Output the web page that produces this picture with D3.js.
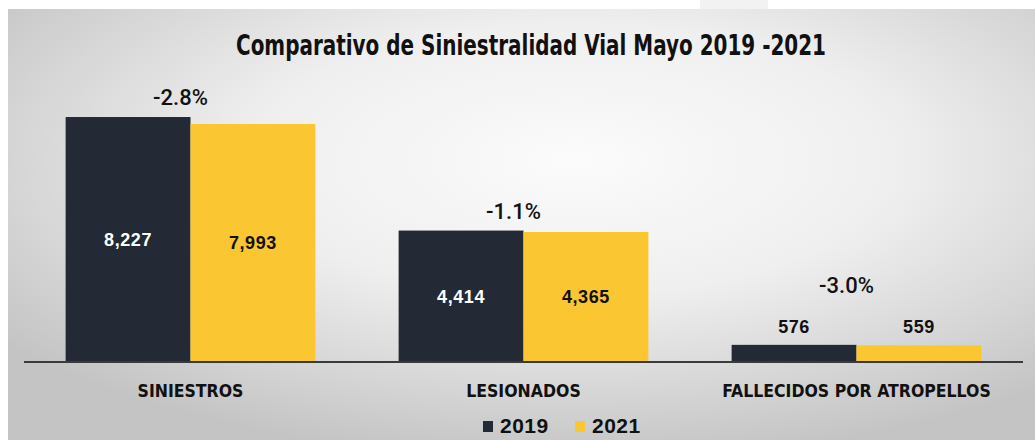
<!DOCTYPE html>
<html>
<head>
<meta charset="utf-8">
<script src="https://cdn.jsdelivr.net/npm/d3@7"></script>
<style>
  body { margin: 0; background: #ffffff; }
  svg { display: block; }
</style>
</head>
<body>
<svg id="chart" width="1035" height="440"></svg>
<script>
// chart data
const categories = ['SINIESTROS', 'LESIONADOS', 'FALLECIDOS POR ATROPELLOS'];
const years = ['2019', '2021'];
const values2019 = [8227, 4414, 576];
const values2021 = [7993, 4365, 559];
const colors = ['#232a35', '#fac631'];

const rows = categories.map((c, i) => ({
    cat: c,
    vals: [
        { year: years[0], value: values2019[i] },
        { year: years[1], value: values2021[i] }
    ],
    change: (values2021[i] - values2019[i]) / values2019[i]
}));

const svg = d3.select('#chart');
const W = 1035, H = 440;

// background panel with soft radial shading
const defs = svg.append('defs');
const grad = defs.append('radialGradient')
    .attr('id', 'bg')
    .attr('cx', '55%').attr('cy', '35%').attr('r', '70%');
grad.append('stop').attr('offset', '0%').attr('stop-color', '#fbfbfb');
grad.append('stop').attr('offset', '45%').attr('stop-color', '#efefef');
grad.append('stop').attr('offset', '100%').attr('stop-color', '#c4c4c4');

svg.append('rect').attr('x', 8).attr('y', 9).attr('width', W - 8).attr('height', H - 9)
    .attr('fill', 'url(#bg)');
svg.append('rect').attr('x', 700).attr('y', 0).attr('width', 68).attr('height', 9)
    .attr('fill', '#f2f2f2');

// scales
const baseY = 362;
const x0 = d3.scaleBand()
    .domain(categories)
    .range([24, 1023])
    .paddingInner(0.25)
    .paddingOuter(0.125);
const x1 = d3.scaleBand()
    .domain(years)
    .range([0, x0.bandwidth()]);
const y = d3.scaleLinear()
    .domain([0, 9000])
    .range([baseY, baseY - 268]);
const color = d3.scaleOrdinal().domain(years).range(colors);

const fmt = d3.format(',');
const pct = d3.formatLocale({ decimal: '.', thousands: ',', grouping: [3], currency: ['$', ''], minus: '-' })
    .format('.1%');

const condensed = '"DejaVu Sans Condensed", "DejaVu Sans", sans-serif';

// title
svg.append('text')
    .attr('x', 531).attr('y', 55)
    .attr('text-anchor', 'middle')
    .attr('textLength', 590)
    .attr('lengthAdjust', 'spacingAndGlyphs')
    .style('font-family', condensed)
    .style('font-weight', 'bold')
    .style('font-size', '29px')
    .style('fill', '#111')
    .text('Comparativo de Siniestralidad Vial Mayo 2019 -2021');

const groups = svg.selectAll('.group')
    .data(rows)
    .enter()
    .append('g')
    .attr('class', 'group')
    .attr('transform', d => `translate(${x0(d.cat)},0)`);

// bars
groups.selectAll('rect')
    .data(d => d.vals)
    .enter()
    .append('rect')
    .attr('x', d => x1(d.year))
    .attr('y', d => y(d.value))
    .attr('width', x1.bandwidth())
    .attr('height', d => baseY - y(d.value))
    .attr('fill', d => color(d.year));

// value labels: inside tall bars, above short ones
const inside = d => baseY - y(d.value) > 40;
groups.selectAll('.val')
    .data(d => d.vals)
    .enter()
    .append('text')
    .attr('class', 'val')
    .attr('x', d => x1(d.year) + x1.bandwidth() / 2)
    .attr('y', d => inside(d) ? (y(d.value) + baseY) / 2 : y(d.value) - 12)
    .attr('dy', d => inside(d) ? '0.35em' : 0)
    .attr('text-anchor', 'middle')
    .style('font-family', '"Liberation Sans", Arial, sans-serif')
    .style('font-weight', 'bold')
    .style('font-size', '18px')
    .style('letter-spacing', '0.6px')
    .style('fill', d => inside(d) && d.year === '2019' ? '#ffffff' : '#111111')
    .text(d => fmt(d.value));

// percent change labels
groups.append('text')
    .attr('x', x0.bandwidth() / 2 - 10)
    .attr('y', d => {
        const top = y(d3.max(d.vals, v => v.value));
        return inside(d.vals[1]) ? top - 12 : top - 52;
    })
    .attr('text-anchor', 'middle')
    .style('font-family', 'Roboto, sans-serif')
    .style('font-weight', 500)
    .style('font-size', '22px')
    .style('fill', '#111')
    .text(d => pct(d.change));

// baseline
svg.append('line')
    .attr('x1', 24).attr('x2', 1023)
    .attr('y1', baseY).attr('y2', baseY)
    .attr('stroke', '#3a3a3a')
    .attr('stroke-width', 2);

// category labels
svg.selectAll('.cat')
    .data(categories)
    .enter()
    .append('text')
    .attr('class', 'cat')
    .attr('x', d => x0(d) + x0.bandwidth() / 2)
    .attr('y', 397)
    .attr('text-anchor', 'middle')
    .style('font-family', condensed)
    .style('font-weight', 'bold')
    .style('font-size', '17.5px')
    .style('fill', '#111')
    .text(d => d);

// legend
const legend = svg.append('g').attr('transform', 'translate(483,421)');
const item = legend.selectAll('.leg')
    .data(years)
    .enter()
    .append('g')
    .attr('class', 'leg')
    .attr('transform', (d, i) => `translate(${i * 92},0)`);
item.append('rect')
    .attr('width', 10).attr('height', 11)
    .attr('fill', d => color(d));
item.append('text')
    .attr('x', 17).attr('y', 12)
    .style('font-family', '"Liberation Sans", Arial, sans-serif')
    .style('font-weight', 'bold')
    .style('font-size', '21px')
    .style('letter-spacing', '0.5px')
    .style('fill', '#111')
    .text(d => d);
</script>
</body>
</html>
